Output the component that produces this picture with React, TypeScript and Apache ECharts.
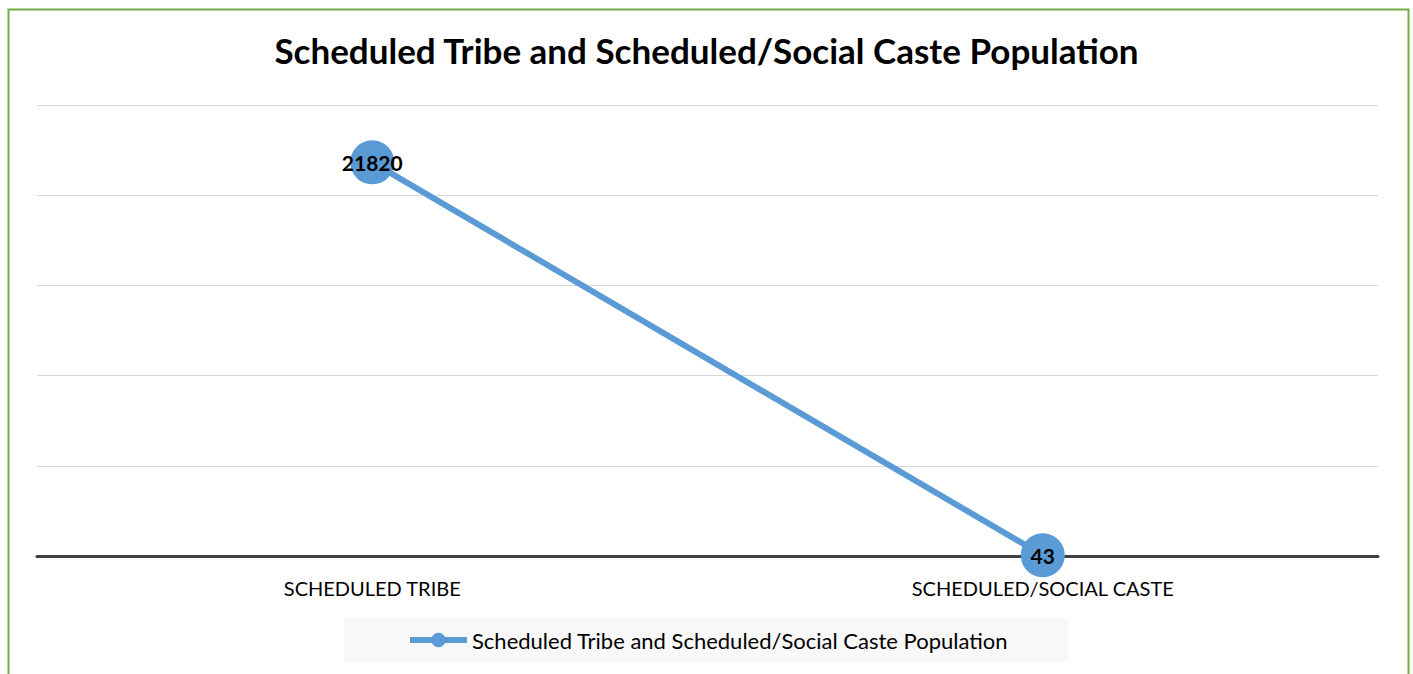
import React, { useEffect, useRef } from "react";
import * as echarts from "echarts";

const categories = ["SCHEDULED TRIBE", "SCHEDULED/SOCIAL CASTE"];
const seriesName = "Scheduled Tribe and Scheduled/Social Caste Population";
const values = [21820, 43];
const yMin = 0;
const yMax = 25000;
const yInterval = 5000;

const FONT = "Lato, 'Open Sans', sans-serif";

export default function App() {
  const ref = useRef<HTMLDivElement>(null);
  useEffect(() => {
    if (!ref.current) return;
    const chart = echarts.init(ref.current, undefined, { renderer: "svg" });
    chart.setOption({
      animation: false,
      backgroundColor: "#ffffff",
      title: {
        text: seriesName,
        left: "center",
        top: 27,
        textStyle: { fontFamily: FONT, fontWeight: "bold", fontSize: 35, color: "#000" },
      },
      graphic: [
        {
          type: "rect",
          left: 6,
          top: 7,
          shape: { x: 0, y: 0, width: 1400, height: 720 },
          style: { fill: "none", stroke: "#70AD47", lineWidth: 2 },
          silent: true,
        },
      ],
      grid: { left: 37, right: 35, top: 105, bottom: 118 },
      legend: {
        data: [seriesName],
        left: 344,
        top: 618,
        padding: [11, 60, 11, 63],
        backgroundColor: "#f8f8f8",
        itemWidth: 57,
        itemHeight: 18,
        itemGap: 4,
        lineStyle: { width: 6 },
        textStyle: { fontFamily: FONT, fontSize: 22, color: "#000" },
      },
      xAxis: {
        type: "category",
        data: categories,
        axisLine: { lineStyle: { color: "#404040", width: 3 } },
        axisTick: { show: false },
        axisLabel: { fontFamily: FONT, fontSize: 20, color: "#000", margin: 22 },
      },
      yAxis: {
        type: "value",
        min: yMin,
        max: yMax,
        interval: yInterval,
        axisLabel: { show: false },
        axisLine: { show: false },
        axisTick: { show: false },
        splitLine: { lineStyle: { color: "#d9d9d9", width: 1 } },
      },
      series: [
        {
          name: seriesName,
          type: "line",
          data: values,
          symbol: "circle",
          symbolSize: 44,
          lineStyle: { color: "#5B9BD5", width: 6 },
          itemStyle: { color: "#5B9BD5" },
          label: {
            show: true,
            position: "inside",
            fontFamily: FONT,
            fontWeight: "bold",
            fontSize: 21,
            color: "#000",
          },
        },
      ],
    });
    return () => chart.dispose();
  }, []);
  return (
    <div
      ref={ref}
      style={{ position: "fixed", left: 0, top: 0, width: 1413, height: 674 }}
    />
  );
}
